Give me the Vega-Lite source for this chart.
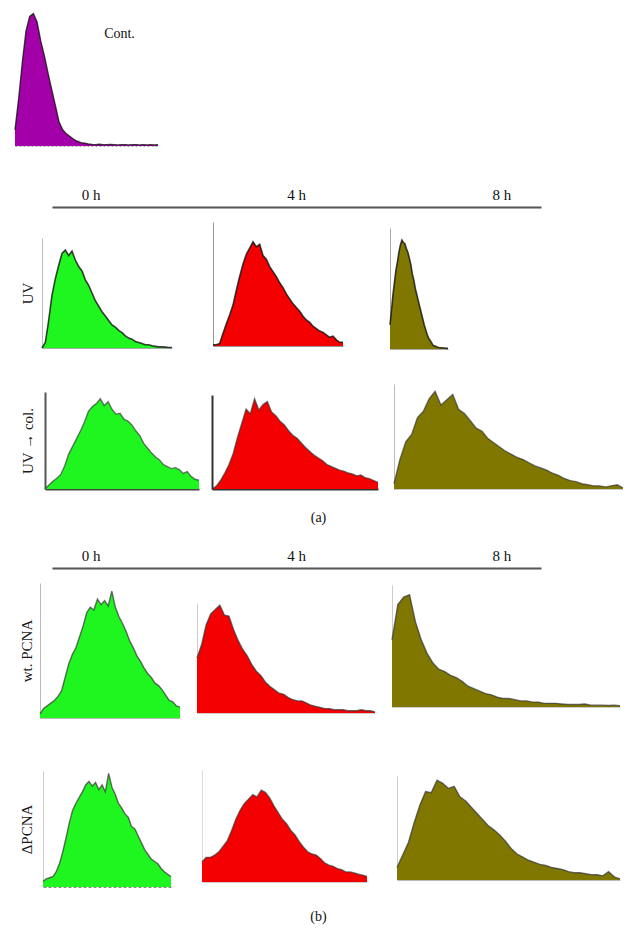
{
"$schema": "https://vega.github.io/schema/vega-lite/v6.json",
"padding": 0,
"background": "white",
"spacing": 0,
"config": {
  "view": {"stroke": null},
  "concat": {"spacing": 0},
  "axis": {"labels": false, "ticks": false, "grid": false, "domainWidth": 1, "titleFont": "Liberation Serif", "titleFontSize": 15, "titleFontWeight": "normal", "titleColor": "#1a1a1a"},
  "text": {"font": "Liberation Serif", "fontSize": 15, "color": "#111"}
},
"datasets": {
  "cont": [{"b":0,"c":12},{"b":1,"c":35},{"b":2,"c":62},{"b":3,"c":85},{"b":4,"c":96},{"b":5,"c":98},{"b":6,"c":92},{"b":7,"c":78},{"b":8,"c":67},{"b":9,"c":54},{"b":10,"c":42},{"b":11,"c":30},{"b":12,"c":18},{"b":13,"c":12},{"b":14,"c":9},{"b":15,"c":7},{"b":16,"c":5},{"b":17,"c":3.5},{"b":18,"c":2.5},{"b":19,"c":2},{"b":20,"c":1.5},{"b":21,"c":1.2},{"b":22,"c":1},{"b":23,"c":1.3},{"b":24,"c":1},{"b":25,"c":1},{"b":26,"c":1.2},{"b":27,"c":1},{"b":28,"c":0.8},{"b":29,"c":1},{"b":30,"c":1},{"b":31,"c":0.8},{"b":32,"c":1},{"b":33,"c":1},{"b":34,"c":0.8},{"b":35,"c":1},{"b":36,"c":0.8},{"b":37,"c":1},{"b":38,"c":0.8},{"b":39,"c":1}],
  "uvg": [{"b":0,"c":0},{"b":1,"c":5},{"b":2,"c":25},{"b":3,"c":48},{"b":4,"c":63},{"b":5,"c":75},{"b":6,"c":86},{"b":7,"c":89},{"b":8,"c":84},{"b":9,"c":88},{"b":10,"c":80},{"b":11,"c":74},{"b":12,"c":70},{"b":13,"c":62},{"b":14,"c":57},{"b":15,"c":50},{"b":16,"c":43},{"b":17,"c":38},{"b":18,"c":33},{"b":19,"c":29},{"b":20,"c":25},{"b":21,"c":21},{"b":22,"c":19},{"b":23,"c":16},{"b":24,"c":14},{"b":25,"c":11},{"b":26,"c":9},{"b":27,"c":8},{"b":28,"c":6},{"b":29,"c":5},{"b":30,"c":4},{"b":31,"c":3},{"b":32,"c":3},{"b":33,"c":2},{"b":34,"c":1.5},{"b":35,"c":1},{"b":36,"c":1},{"b":37,"c":0.8},{"b":38,"c":0.5},{"b":39,"c":0.5}],
  "uvr": [{"b":0,"c":1},{"b":1,"c":1},{"b":2,"c":2},{"b":3,"c":10},{"b":4,"c":18},{"b":5,"c":25},{"b":6,"c":33},{"b":7,"c":45},{"b":8,"c":56},{"b":9,"c":66},{"b":10,"c":74},{"b":11,"c":79},{"b":12,"c":84},{"b":13,"c":80},{"b":14,"c":82},{"b":15,"c":73},{"b":16,"c":70},{"b":17,"c":64},{"b":18,"c":60},{"b":19,"c":56},{"b":20,"c":51},{"b":21,"c":47},{"b":22,"c":42},{"b":23,"c":38},{"b":24,"c":34},{"b":25,"c":31},{"b":26,"c":28},{"b":27,"c":24},{"b":28,"c":21},{"b":29,"c":19},{"b":30,"c":16},{"b":31,"c":14},{"b":32,"c":12},{"b":33,"c":11},{"b":34,"c":9},{"b":35,"c":7},{"b":36,"c":8},{"b":37,"c":5},{"b":38,"c":3},{"b":39,"c":3}],
  "uvo": [{"b":0,"c":20},{"b":1,"c":32},{"b":2,"c":45},{"b":3,"c":55},{"b":4,"c":65},{"b":5,"c":72},{"b":6,"c":80},{"b":7,"c":86},{"b":8,"c":90},{"b":9,"c":88},{"b":10,"c":87},{"b":11,"c":83},{"b":12,"c":80},{"b":13,"c":75},{"b":14,"c":70},{"b":15,"c":62},{"b":16,"c":57},{"b":17,"c":50},{"b":18,"c":45},{"b":19,"c":40},{"b":20,"c":35},{"b":21,"c":30},{"b":22,"c":25},{"b":23,"c":20},{"b":24,"c":16},{"b":25,"c":12},{"b":26,"c":9},{"b":27,"c":7},{"b":28,"c":5},{"b":29,"c":3},{"b":30,"c":2.5},{"b":31,"c":2},{"b":32,"c":1.5},{"b":33,"c":1.2},{"b":34,"c":1},{"b":35,"c":1},{"b":36,"c":0.8},{"b":37,"c":0.8},{"b":38,"c":0.5},{"b":39,"c":0.5}],
  "uvcg": [{"b":0,"c":0},{"b":1,"c":4},{"b":2,"c":8},{"b":3,"c":11},{"b":4,"c":15},{"b":5,"c":24},{"b":6,"c":36},{"b":7,"c":44},{"b":8,"c":52},{"b":9,"c":60},{"b":10,"c":69},{"b":11,"c":80},{"b":12,"c":85},{"b":13,"c":88},{"b":14,"c":93},{"b":15,"c":86},{"b":16,"c":90},{"b":17,"c":82},{"b":18,"c":77},{"b":19,"c":78},{"b":20,"c":72},{"b":21,"c":70},{"b":22,"c":66},{"b":23,"c":60},{"b":24,"c":55},{"b":25,"c":47},{"b":26,"c":42},{"b":27,"c":37},{"b":28,"c":33},{"b":29,"c":30},{"b":30,"c":25},{"b":31,"c":23},{"b":32,"c":21},{"b":33,"c":22},{"b":34,"c":20},{"b":35,"c":16},{"b":36,"c":18},{"b":37,"c":13},{"b":38,"c":10},{"b":39,"c":9}],
  "uvcr": [{"b":0,"c":0},{"b":1,"c":3},{"b":2,"c":9},{"b":3,"c":17},{"b":4,"c":26},{"b":5,"c":38},{"b":6,"c":55},{"b":7,"c":70},{"b":8,"c":85},{"b":9,"c":80},{"b":10,"c":96},{"b":11,"c":84},{"b":12,"c":90},{"b":13,"c":93},{"b":14,"c":82},{"b":15,"c":78},{"b":16,"c":72},{"b":17,"c":68},{"b":18,"c":62},{"b":19,"c":57},{"b":20,"c":54},{"b":21,"c":49},{"b":22,"c":44},{"b":23,"c":40},{"b":24,"c":36},{"b":25,"c":33},{"b":26,"c":30},{"b":27,"c":26},{"b":28,"c":24},{"b":29,"c":22},{"b":30,"c":20},{"b":31,"c":19},{"b":32,"c":17},{"b":33,"c":16},{"b":34,"c":14},{"b":35,"c":15},{"b":36,"c":12},{"b":37,"c":11},{"b":38,"c":9},{"b":39,"c":7}],
  "uvco": [{"b":0,"c":5},{"b":1,"c":28},{"b":2,"c":45},{"b":3,"c":52},{"b":4,"c":68},{"b":5,"c":74},{"b":6,"c":86},{"b":7,"c":93},{"b":8,"c":80},{"b":9,"c":85},{"b":10,"c":90},{"b":11,"c":76},{"b":12,"c":72},{"b":13,"c":65},{"b":14,"c":58},{"b":15,"c":55},{"b":16,"c":48},{"b":17,"c":44},{"b":18,"c":40},{"b":19,"c":36},{"b":20,"c":33},{"b":21,"c":30},{"b":22,"c":28},{"b":23,"c":25},{"b":24,"c":22},{"b":25,"c":20},{"b":26,"c":18},{"b":27,"c":15},{"b":28,"c":13},{"b":29,"c":10},{"b":30,"c":8},{"b":31,"c":7},{"b":32,"c":5},{"b":33,"c":4},{"b":34,"c":3},{"b":35,"c":3},{"b":36,"c":2},{"b":37,"c":3},{"b":38,"c":4},{"b":39,"c":1}],
  "wtg": [{"b":0,"c":3},{"b":1,"c":7},{"b":2,"c":9},{"b":3,"c":11},{"b":4,"c":13},{"b":5,"c":16},{"b":6,"c":20},{"b":7,"c":30},{"b":8,"c":40},{"b":9,"c":47},{"b":10,"c":52},{"b":11,"c":60},{"b":12,"c":68},{"b":13,"c":78},{"b":14,"c":82},{"b":15,"c":80},{"b":16,"c":88},{"b":17,"c":84},{"b":18,"c":87},{"b":19,"c":83},{"b":20,"c":94},{"b":21,"c":82},{"b":22,"c":75},{"b":23,"c":70},{"b":24,"c":64},{"b":25,"c":57},{"b":26,"c":52},{"b":27,"c":46},{"b":28,"c":42},{"b":29,"c":37},{"b":30,"c":33},{"b":31,"c":30},{"b":32,"c":26},{"b":33,"c":24},{"b":34,"c":21},{"b":35,"c":17},{"b":36,"c":13},{"b":37,"c":12},{"b":38,"c":9},{"b":39,"c":8}],
  "wtr": [{"b":0,"c":50},{"b":1,"c":62},{"b":2,"c":80},{"b":3,"c":90},{"b":4,"c":94},{"b":5,"c":98},{"b":6,"c":89},{"b":7,"c":88},{"b":8,"c":76},{"b":9,"c":66},{"b":10,"c":58},{"b":11,"c":52},{"b":12,"c":44},{"b":13,"c":38},{"b":14,"c":34},{"b":15,"c":28},{"b":16,"c":24},{"b":17,"c":21},{"b":18,"c":18},{"b":19,"c":17},{"b":20,"c":14},{"b":21,"c":12},{"b":22,"c":11},{"b":23,"c":11},{"b":24,"c":9},{"b":25,"c":7},{"b":26,"c":6},{"b":27,"c":5},{"b":28,"c":4},{"b":29,"c":4},{"b":30,"c":3},{"b":31,"c":3},{"b":32,"c":3},{"b":33,"c":2},{"b":34,"c":2},{"b":35,"c":2},{"b":36,"c":3},{"b":37,"c":2},{"b":38,"c":2},{"b":39,"c":1}],
  "wto": [{"b":0,"c":55},{"b":1,"c":84},{"b":2,"c":90},{"b":3,"c":92},{"b":4,"c":70},{"b":5,"c":55},{"b":6,"c":44},{"b":7,"c":36},{"b":8,"c":31},{"b":9,"c":29},{"b":10,"c":26},{"b":11,"c":24},{"b":12,"c":21},{"b":13,"c":17},{"b":14,"c":15},{"b":15,"c":13},{"b":16,"c":11},{"b":17,"c":10},{"b":18,"c":8},{"b":19,"c":7},{"b":20,"c":7},{"b":21,"c":6},{"b":22,"c":5},{"b":23,"c":5},{"b":24,"c":4},{"b":25,"c":4},{"b":26,"c":3},{"b":27,"c":3},{"b":28,"c":3},{"b":29,"c":2.5},{"b":30,"c":2},{"b":31,"c":2},{"b":32,"c":2},{"b":33,"c":2.5},{"b":34,"c":1.5},{"b":35,"c":1.5},{"b":36,"c":1.5},{"b":37,"c":1.2},{"b":38,"c":1.5},{"b":39,"c":1}],
  "dg": [{"b":0,"c":5},{"b":1,"c":7},{"b":2,"c":8},{"b":3,"c":9},{"b":4,"c":13},{"b":5,"c":20},{"b":6,"c":30},{"b":7,"c":42},{"b":8,"c":55},{"b":9,"c":66},{"b":10,"c":72},{"b":11,"c":77},{"b":12,"c":82},{"b":13,"c":88},{"b":14,"c":91},{"b":15,"c":87},{"b":16,"c":90},{"b":17,"c":84},{"b":18,"c":88},{"b":19,"c":82},{"b":20,"c":98},{"b":21,"c":86},{"b":22,"c":80},{"b":23,"c":72},{"b":24,"c":68},{"b":25,"c":63},{"b":26,"c":60},{"b":27,"c":52},{"b":28,"c":50},{"b":29,"c":44},{"b":30,"c":38},{"b":31,"c":32},{"b":32,"c":28},{"b":33,"c":24},{"b":34,"c":22},{"b":35,"c":20},{"b":36,"c":16},{"b":37,"c":13},{"b":38,"c":11},{"b":39,"c":9}],
  "dr": [{"b":0,"c":18},{"b":1,"c":22},{"b":2,"c":22},{"b":3,"c":24},{"b":4,"c":27},{"b":5,"c":32},{"b":6,"c":37},{"b":7,"c":46},{"b":8,"c":56},{"b":9,"c":64},{"b":10,"c":70},{"b":11,"c":74},{"b":12,"c":78},{"b":13,"c":76},{"b":14,"c":82},{"b":15,"c":80},{"b":16,"c":75},{"b":17,"c":68},{"b":18,"c":62},{"b":19,"c":56},{"b":20,"c":52},{"b":21,"c":46},{"b":22,"c":42},{"b":23,"c":36},{"b":24,"c":31},{"b":25,"c":27},{"b":26,"c":25},{"b":27,"c":24},{"b":28,"c":21},{"b":29,"c":17},{"b":30,"c":15},{"b":31,"c":14},{"b":32,"c":12},{"b":33,"c":11},{"b":34,"c":9},{"b":35,"c":9},{"b":36,"c":8},{"b":37,"c":7},{"b":38,"c":6},{"b":39,"c":5}],
  "do": [{"b":0,"c":12},{"b":1,"c":24},{"b":2,"c":36},{"b":3,"c":55},{"b":4,"c":72},{"b":5,"c":85},{"b":6,"c":84},{"b":7,"c":96},{"b":8,"c":93},{"b":9,"c":88},{"b":10,"c":90},{"b":11,"c":80},{"b":12,"c":76},{"b":13,"c":70},{"b":14,"c":64},{"b":15,"c":58},{"b":16,"c":52},{"b":17,"c":48},{"b":18,"c":43},{"b":19,"c":37},{"b":20,"c":30},{"b":21,"c":25},{"b":22,"c":22},{"b":23,"c":19},{"b":24,"c":17},{"b":25,"c":15},{"b":26,"c":14},{"b":27,"c":12},{"b":28,"c":11},{"b":29,"c":10},{"b":30,"c":8},{"b":31,"c":7},{"b":32,"c":7},{"b":33,"c":6},{"b":34,"c":5},{"b":35,"c":5},{"b":36,"c":4},{"b":37,"c":8},{"b":38,"c":3},{"b":39,"c":1}]
},
"vconcat": [
  {"spacing": 0, "hconcat": [
    {"width": 12, "height": 1, "data": {"values": []}, "mark": "point"},
    {"spacing": 0, "vconcat": [
      {"width": 1, "height": 10, "data": {"values": []}, "mark": "point"},
      {"width": 143, "height": 135, "layer": [
        {"data": {"name": "cont"}, "mark": {"type": "area", "color": "#a400aa", "opacity": 1, "line": {"color": "#111", "strokeWidth": 1.4, "opacity": 0.8}},
         "encoding": {"x": {"field": "b", "type": "quantitative", "scale": {"domain": [0, 39], "nice": false}, "axis": {"title": null, "domainColor": "#aaa", "domainDash": [2, 2]}},
                      "y": {"field": "c", "type": "quantitative", "scale": {"domain": [0, 100], "nice": false}, "axis": null}}},
        {"data": {"values": [{"t": "Cont."}]}, "mark": {"type": "text", "font": "Liberation Serif", "fontSize": 14},
         "encoding": {"x": {"datum": 28.5, "axis": {"title": null, "domainColor": "#aaa", "domainDash": [2, 2]}}, "y": {"datum": 83, "axis": null}, "text": {"field": "t"}}}
      ]}
    ]}
  ]},
  {"width": 1, "height": 35, "data": {"values": []}, "mark": "point"},
  {"spacing": 0, "hconcat": [
    {"width": 52, "height": 24, "data": {"values": []}, "mark": "point"},
    {"width": 489, "height": 24, "data": {"values": [{"t": "0 h"}, {"t": "4 h"}, {"t": "8 h"}]}, "mark": {"type": "text", "font": "Liberation Serif", "fontSize": 15},
     "encoding": {"x": {"field": "t", "type": "ordinal", "sort": null, "scale": {"type": "point", "padding": 0.19}, "axis": {"orient": "bottom", "title": null, "domainColor": "#555", "domainWidth": 2}}, "text": {"field": "t"}}}
  ]},
  {"spacing": 0, "hconcat": [
    {"width": 20, "height": 1, "data": {"values": []}, "mark": "point"},
    {"spacing": 0, "vconcat": [
      {"width": 1, "height": 31, "data": {"values": []}, "mark": "point"},
      {"width": 130, "height": 110, "data": {"name": "uvg"}, "mark": {"type": "area", "color": "#1ff51f", "opacity": 1, "line": {"color": "#111", "strokeWidth": 1.6, "opacity": 0.8}},
       "encoding": {"x": {"field": "b", "type": "quantitative", "scale": {"domain": [0, 39], "nice": false}, "axis": {"title": null, "domainColor": "#aaa"}},
                    "y": {"field": "c", "type": "quantitative", "scale": {"domain": [0, 100], "nice": false}, "axis": {"title": "UV", "titlePadding": 7, "domainColor": "#bbb"}}}}
    ]},
    {"width": 33, "height": 1, "data": {"values": []}, "mark": "point"},
    {"spacing": 0, "vconcat": [
      {"width": 1, "height": 15, "data": {"values": []}, "mark": "point"},
      {"width": 130, "height": 124, "data": {"name": "uvr"}, "mark": {"type": "area", "color": "#f50000", "opacity": 1, "line": {"color": "#111", "strokeWidth": 1.6, "opacity": 0.8}},
       "encoding": {"x": {"field": "b", "type": "quantitative", "scale": {"domain": [0, 39], "nice": false}, "axis": {"title": null, "domainColor": "#999"}},
                    "y": {"field": "c", "type": "quantitative", "scale": {"domain": [0, 100], "nice": false}, "axis": {"title": null, "domainColor": "#999"}}}}
    ]},
    {"width": 39, "height": 1, "data": {"values": []}, "mark": "point"},
    {"spacing": 0, "vconcat": [
      {"width": 1, "height": 21, "data": {"values": []}, "mark": "point"},
      {"width": 58, "height": 121, "data": {"name": "uvo"}, "mark": {"type": "area", "color": "#7f7700", "opacity": 1, "line": {"color": "#111", "strokeWidth": 1.6, "opacity": 0.8}},
       "encoding": {"x": {"field": "b", "type": "quantitative", "scale": {"domain": [0, 39], "nice": false}, "axis": {"title": null, "domainColor": "#aaa"}},
                    "y": {"field": "c", "type": "quantitative", "scale": {"domain": [0, 100], "nice": false}, "axis": {"title": null, "domainColor": "#aaa"}}}}
    ]}
  ]},
  {"spacing": 0, "hconcat": [
    {"width": 20, "height": 1, "data": {"values": []}, "mark": "point"},
    {"spacing": 0, "vconcat": [
      {"width": 1, "height": 40, "data": {"values": []}, "mark": "point"},
      {"width": 154, "height": 97, "data": {"name": "uvcg"}, "mark": {"type": "area", "color": "#1ff51f", "opacity": 1, "line": {"color": "#333", "strokeWidth": 1.4, "opacity": 0.65}},
       "encoding": {"x": {"field": "b", "type": "quantitative", "scale": {"domain": [0, 39], "nice": false}, "axis": {"title": null, "domainColor": "#444", "domainWidth": 2}},
                    "y": {"field": "c", "type": "quantitative", "scale": {"domain": [0, 100], "nice": false}, "axis": {"title": "UV → col.", "titlePadding": 10, "domainColor": "#555", "domainWidth": 2}}}}
    ]},
    {"width": 7, "height": 1, "data": {"values": []}, "mark": "point"},
    {"spacing": 0, "vconcat": [
      {"width": 1, "height": 43, "data": {"values": []}, "mark": "point"},
      {"width": 166, "height": 94, "data": {"name": "uvcr"}, "mark": {"type": "area", "color": "#f50000", "opacity": 1, "line": {"color": "#333", "strokeWidth": 1.4, "opacity": 0.65}},
       "encoding": {"x": {"field": "b", "type": "quantitative", "scale": {"domain": [0, 39], "nice": false}, "axis": {"title": null, "domainColor": "#333", "domainWidth": 2}},
                    "y": {"field": "c", "type": "quantitative", "scale": {"domain": [0, 100], "nice": false}, "axis": {"title": null, "domainColor": "#333", "domainWidth": 2}}}}
    ]},
    {"width": 10, "height": 1, "data": {"values": []}, "mark": "point"},
    {"spacing": 0, "vconcat": [
      {"width": 1, "height": 32, "data": {"values": []}, "mark": "point"},
      {"width": 229, "height": 105, "data": {"name": "uvco"}, "mark": {"type": "area", "color": "#7f7700", "opacity": 1, "line": {"color": "#333", "strokeWidth": 1.4, "opacity": 0.65}},
       "encoding": {"x": {"field": "b", "type": "quantitative", "scale": {"domain": [0, 39], "nice": false}, "axis": {"title": null, "domainColor": "#ccc"}},
                    "y": {"field": "c", "type": "quantitative", "scale": {"domain": [0, 100], "nice": false}, "axis": {"title": null, "domainColor": "#bbb"}}}}
    ]}
  ]},
  {"width": 637, "height": 52, "data": {"values": [{"t": "(a)"}]}, "mark": {"type": "text", "font": "Liberation Serif", "fontSize": 14}, "encoding": {"text": {"field": "t"}}},
  {"spacing": 0, "hconcat": [
    {"width": 52, "height": 24, "data": {"values": []}, "mark": "point"},
    {"width": 489, "height": 24, "data": {"values": [{"t": "0 h"}, {"t": "4 h"}, {"t": "8 h"}]}, "mark": {"type": "text", "font": "Liberation Serif", "fontSize": 15},
     "encoding": {"x": {"field": "t", "type": "ordinal", "sort": null, "scale": {"type": "point", "padding": 0.19}, "axis": {"orient": "bottom", "title": null, "domainColor": "#555", "domainWidth": 2}}, "text": {"field": "t"}}}
  ]},
  {"spacing": 0, "hconcat": [
    {"width": 19, "height": 1, "data": {"values": []}, "mark": "point"},
    {"spacing": 0, "vconcat": [
      {"width": 1, "height": 15, "data": {"values": []}, "mark": "point"},
      {"width": 140, "height": 135, "data": {"name": "wtg"}, "mark": {"type": "area", "color": "#1ff51f", "opacity": 1, "line": {"color": "#333", "strokeWidth": 1.4, "opacity": 0.7}},
       "encoding": {"x": {"field": "b", "type": "quantitative", "scale": {"domain": [0, 39], "nice": false}, "axis": {"title": null, "domainColor": "#bbb"}},
                    "y": {"field": "c", "type": "quantitative", "scale": {"domain": [0, 100], "nice": false}, "axis": {"title": "wt. PCNA", "titlePadding": 6, "domainColor": "#bbb"}}}}
    ]},
    {"width": 11, "height": 1, "data": {"values": []}, "mark": "point"},
    {"spacing": 0, "vconcat": [
      {"width": 1, "height": 34, "data": {"values": []}, "mark": "point"},
      {"width": 178, "height": 110, "data": {"name": "wtr"}, "mark": {"type": "area", "color": "#f50000", "opacity": 1, "line": {"color": "#333", "strokeWidth": 1.4, "opacity": 0.7}},
       "encoding": {"x": {"field": "b", "type": "quantitative", "scale": {"domain": [0, 39], "nice": false}, "axis": {"title": null, "domainColor": "#ccc"}},
                    "y": {"field": "c", "type": "quantitative", "scale": {"domain": [0, 100], "nice": false}, "axis": {"title": null, "domainColor": "#ccc"}}}}
    ]},
    {"width": 11, "height": 1, "data": {"values": []}, "mark": "point"},
    {"spacing": 0, "vconcat": [
      {"width": 1, "height": 17, "data": {"values": []}, "mark": "point"},
      {"width": 228, "height": 122, "data": {"name": "wto"}, "mark": {"type": "area", "color": "#7f7700", "opacity": 1, "line": {"color": "#333", "strokeWidth": 1.4, "opacity": 0.7}},
       "encoding": {"x": {"field": "b", "type": "quantitative", "scale": {"domain": [0, 39], "nice": false}, "axis": {"title": null, "domainColor": "#ccc"}},
                    "y": {"field": "c", "type": "quantitative", "scale": {"domain": [0, 100], "nice": false}, "axis": {"title": null, "domainColor": "#ccc"}}}}
    ]}
  ]},
  {"spacing": 0, "hconcat": [
    {"width": 19, "height": 1, "data": {"values": []}, "mark": "point"},
    {"spacing": 0, "vconcat": [
      {"width": 1, "height": 52, "data": {"values": []}, "mark": "point"},
      {"width": 128, "height": 116, "data": {"name": "dg"}, "mark": {"type": "area", "color": "#1ff51f", "opacity": 1, "line": {"color": "#333", "strokeWidth": 1.4, "opacity": 0.7}},
       "encoding": {"x": {"field": "b", "type": "quantitative", "scale": {"domain": [0, 39], "nice": false}, "axis": {"title": null, "domainColor": "#888", "domainDash": [3, 2]}},
                    "y": {"field": "c", "type": "quantitative", "scale": {"domain": [0, 100], "nice": false}, "axis": {"title": "ΔPCNA", "titlePadding": 9, "domainColor": "#ccc"}}}}
    ]},
    {"width": 25, "height": 1, "data": {"values": []}, "mark": "point"},
    {"spacing": 0, "vconcat": [
      {"width": 1, "height": 52, "data": {"values": []}, "mark": "point"},
      {"width": 165, "height": 112, "data": {"name": "dr"}, "mark": {"type": "area", "color": "#f50000", "opacity": 1, "line": {"color": "#333", "strokeWidth": 1.4, "opacity": 0.65}},
       "encoding": {"x": {"field": "b", "type": "quantitative", "scale": {"domain": [0, 39], "nice": false}, "axis": {"title": null, "domainColor": "#ccc"}},
                    "y": {"field": "c", "type": "quantitative", "scale": {"domain": [0, 100], "nice": false}, "axis": {"title": null, "domainColor": "#ddd"}}}}
    ]},
    {"width": 24, "height": 1, "data": {"values": []}, "mark": "point"},
    {"spacing": 0, "vconcat": [
      {"width": 1, "height": 58, "data": {"values": []}, "mark": "point"},
      {"width": 223, "height": 104, "data": {"name": "do"}, "mark": {"type": "area", "color": "#7f7700", "opacity": 1, "line": {"color": "#333", "strokeWidth": 1.4, "opacity": 0.7}},
       "encoding": {"x": {"field": "b", "type": "quantitative", "scale": {"domain": [0, 39], "nice": false}, "axis": {"title": null, "domainColor": "#bbb"}},
                    "y": {"field": "c", "type": "quantitative", "scale": {"domain": [0, 100], "nice": false}, "axis": {"title": null, "domainColor": "#ccc"}}}}
    ]}
  ]},
  {"width": 637, "height": 60, "data": {"values": [{"t": "(b)"}]}, "mark": {"type": "text", "font": "Liberation Serif", "fontSize": 14}, "encoding": {"text": {"field": "t"}}}
]
}
